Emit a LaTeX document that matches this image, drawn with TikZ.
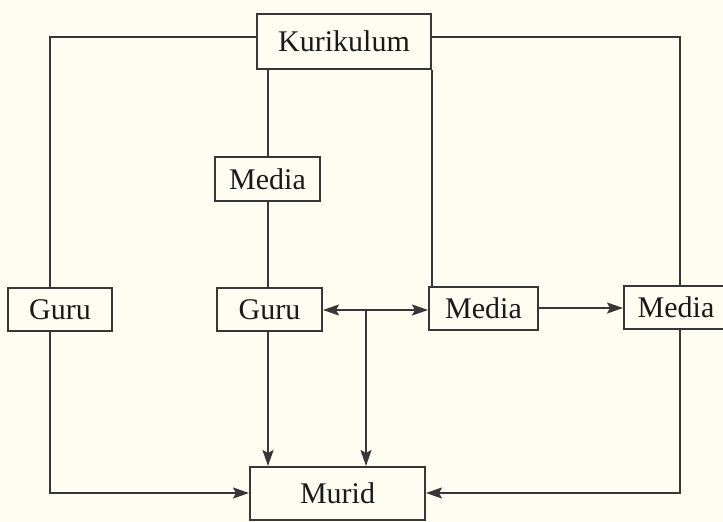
\documentclass[tikz,border=0pt]{standalone}
\usepackage{fontspec}
\setmainfont{Liberation Serif}
\usetikzlibrary{arrows.meta}
\definecolor{paper}{RGB}{254,253,242}
\definecolor{ink}{RGB}{55,55,55}
\tikzset{
  box/.style={draw=ink, line width=2pt, fill=paper, inner sep=0pt, text=black!90,
    font=\fontsize{30}{35}\selectfont},
  link/.style={draw=ink, line width=2pt},
  tip/.tip={Stealth[length=16pt,width=11pt,inset=3pt]},
  arr/.style={link, -tip},
  darr/.style={link, tip-tip}
}
\begin{document}
\begin{tikzpicture}[x=1pt,y=-1pt]
\fill[paper] (0,0) rectangle (723,522);
\useasboundingbox (0,0) rectangle (723,522);
\node[box, minimum width=174pt, minimum height=55pt] (kur) at (344,41.5) {Kurikulum};
\node[box, minimum width=105pt, minimum height=44pt] (med1) at (267.5,179) {Media};
\node[box, minimum width=104pt, minimum height=43pt] (guruL) at (60,309.5) {Guru};
\node[box, minimum width=105pt, minimum height=43pt] (guruM) at (269.5,309.5) {Guru};
\node[box, minimum width=109pt, minimum height=43pt] (medM) at (483.5,308.5) {Media};
\node[box, minimum width=104pt, minimum height=43pt] (medR) at (676,307.5) {Media};
\node[box, minimum width=175pt, minimum height=53pt] (murid) at (337.5,493.5) {Murid};
\coordinate (tl) at (50,37);
\coordinate (tr) at (680,37);
\coordinate (bl) at (50,493);
\coordinate (br) at (680,493);
\coordinate (jn) at (366,310);
% top connections
\draw[link] (kur.west |- tl) -- (tl) -- (guruL.north -| tl);
\draw[link] (kur.east |- tr) -- (tr) -- (medR.north -| tr);
\draw[link] (kur.south -| med1.north) ++(0.5,0) coordinate (k1) -- (med1.north -| k1);
\draw[link] (med1.south -| k1) -- (guruM.north -| k1);
\draw[link] (kur.south east) ++(0,0) coordinate (k2) -- (medM.north -| k2);
% middle arrows
\draw[darr] (guruM.east |- jn) -- (medM.west |- jn);
\draw[arr] (jn) -- (murid.north -| jn);
\draw[arr] (medM.east |- 0,308) -- (medR.west |- 0,308);
\draw[arr] (guruM.south -| k1) -- (murid.north -| k1);
% bottom
\draw[arr] (guruL.south -| bl) -- (bl) -- (murid.west |- bl);
\draw[arr] (medR.south -| br) -- (br) -- (murid.east |- br);
\end{tikzpicture}
\end{document}
